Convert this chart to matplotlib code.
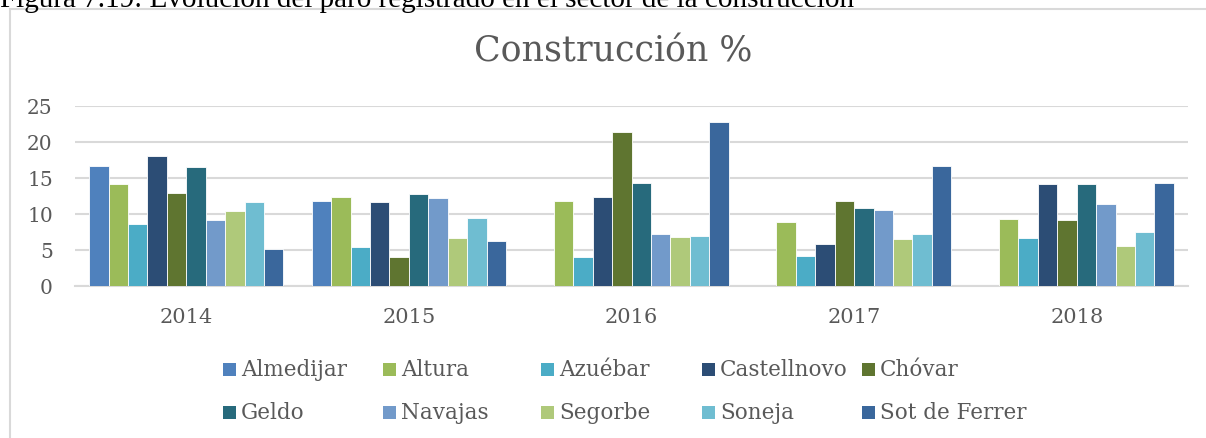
import matplotlib
matplotlib.use("Agg")
import matplotlib.pyplot as plt
import numpy as np
from matplotlib.patches import Rectangle

years = ["2014", "2015", "2016", "2017", "2018"]
municipios = ["Almedijar", "Altura", "Azuébar", "Castellnovo", "Chóvar",
              "Geldo", "Navajas", "Segorbe", "Soneja", "Sot de Ferrer"]
almedijar = [16.7, 11.8, 0, 0, 0]
altura = [14.2, 12.3, 11.8, 8.9, 9.25]
azuebar = [8.6, 5.4, 4.0, 4.2, 6.7]
castellnovo = [18.0, 11.6, 12.4, 5.8, 14.1]
chovar = [12.9, 4.0, 21.4, 11.8, 9.1]
geldo = [16.5, 12.8, 14.3, 10.9, 14.1]
navajas = [9.2, 12.2, 7.2, 10.5, 11.4]
segorbe = [10.4, 6.6, 6.85, 6.5, 5.5]
soneja = [11.6, 9.4, 6.9, 7.2, 7.5]
sot_de_ferrer = [5.2, 6.25, 22.8, 16.7, 14.3]
series = [almedijar, altura, azuebar, castellnovo, chovar,
          geldo, navajas, segorbe, soneja, sot_de_ferrer]
colors = ["#4F81BD", "#9BBB59", "#4BACC6", "#2C4D75", "#5F7530",
          "#276A7C", "#729ACA", "#AFC97A", "#6FBDD1", "#3A679C"]

W, H = 1206, 439
fig = plt.figure(figsize=(W / 100, H / 100), dpi=100)
fig.patch.set_facecolor("white")

serif = dict(family="DejaVu Serif")
gray = "#595959"

# outer chart border (extends past right/bottom)
fig.add_artist(Rectangle((10 / W, -0.1), 1.2, 1 - 10 / H + 0.1, transform=fig.transFigure,
                         fill=False, edgecolor="#D9D9D9", linewidth=1.5))

# caption at top (partially cut off in the original)
fig.text(0 / W, 1 - 7 / H, "Figura 7.19: Evolución del paro registrado en el sector de la construcción",
         family="Liberation Serif", fontsize=21, color="black", ha="left", va="baseline")

ax = fig.add_axes([75 / W, 1 - 287 / H, (1188 - 75) / W, (287 - 107) / H])
n = len(series)
x = np.arange(len(years))
bw = 1.0 / (n + 1.47)
for i, (vals, c) in enumerate(zip(series, colors)):
    offs = (i - (n - 1) / 2) * bw
    ax.bar(x + offs, vals, width=bw, color=c, edgecolor="white", linewidth=0.6, zorder=3)

ax.set_xlim(-0.5, len(years) - 0.5)
ax.set_ylim(0, 25)
ax.set_yticks([0, 5, 10, 15, 20, 25])
ax.set_xticks(x)
ax.set_xticklabels(years)
ax.yaxis.grid(True, color="#D9D9D9", linewidth=1.5, zorder=0)
for s in ["top", "right", "left"]:
    ax.spines[s].set_visible(False)
ax.spines["bottom"].set_color("#D9D9D9")
ax.spines["bottom"].set_linewidth(1.5)
ax.tick_params(axis="both", length=0, colors=gray)
ax.tick_params(axis="y", pad=16, labelsize=14.5)
ax.tick_params(axis="x", pad=15, labelsize=15)
for lab in ax.get_xticklabels() + ax.get_yticklabels():
    lab.set_fontfamily("DejaVu Serif")
    lab.set_color(gray)

fig.text(613 / W, 1 - 52 / H, "Construcción %", fontsize=25, color=gray, ha="center", va="center", **serif)

# legend laid out like the original: two rows of five
col_x = [223, 383, 541, 702, 862]
row_y = [370, 413]
for i, (name, c) in enumerate(zip(municipios, colors)):
    r, k = divmod(i, 5)
    px, py = col_x[k], row_y[r]
    fig.add_artist(Rectangle((px / W, 1 - (py + 6.5) / H), 13 / W, 13 / H, transform=fig.transFigure,
                             facecolor=c, edgecolor="none"))
    fig.text((px + 18) / W, 1 - py / H, name, fontsize=15.5, color=gray, ha="left", va="center", **serif)

fig.savefig("out.png", dpi=100, facecolor="white")
